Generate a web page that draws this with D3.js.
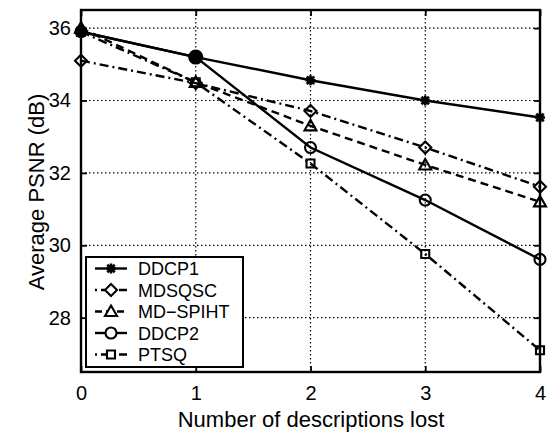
<!DOCTYPE html>
<html><head><meta charset="utf-8">
<script src="https://cdn.jsdelivr.net/npm/d3@7"></script>
<style>body{margin:0;background:#fff}svg{display:block}text{font-family:"Liberation Sans",Arial,Helvetica,sans-serif;fill:#000}</style>
</head><body>
<script>
const xValues = [0, 1, 2, 3, 4];
const seriesNames = ["DDCP1", "MDSQSC", "MD\u2212SPIHT", "DDCP2", "PTSQ"];
const ddcp1  = [35.9, 35.2, 34.56, 34.0, 33.53];
const mdsqsc = [35.1, 34.48, 33.71, 32.70, 31.62];
const mdspiht= [36.0, 34.5, 33.3, 32.22, 31.2];
const ddcp2  = [35.9, 35.2, 32.70, 31.25, 29.61];
const ptsq   = [35.9, 34.5, 32.26, 29.76, 27.10];
const xTicks = [0, 1, 2, 3, 4];
const yTicks = [28, 30, 32, 34, 36];
const xLabel = "Number of descriptions lost";
const yLabel = "Average PSNR (dB)";

const W = 549, H = 434;
const L = 81, R = 540, T = 10, B = 372;
const svg = d3.select("body").append("svg").attr("width", W).attr("height", H);
const x = d3.scaleLinear().domain([0, 4]).range([L, R]);
const y = d3.scaleLinear().domain([26.5, 36.5]).range([B, T]);

// grid
const g = svg.append("g");
g.selectAll(".gx").data(xTicks.slice(1, -1)).join("line")
  .attr("x1", d => x(d)).attr("x2", d => x(d)).attr("y1", T).attr("y2", B)
  .attr("stroke", "#000").attr("stroke-width", 1.2).attr("stroke-dasharray", "1.5,2.5");
g.selectAll(".gy").data(yTicks).join("line")
  .attr("y1", d => y(d)).attr("y2", d => y(d)).attr("x1", L).attr("x2", R)
  .attr("stroke", "#000").attr("stroke-width", 1.2).attr("stroke-dasharray", "1.5,2.5");

// axes with inward ticks
const tickLen = 6;
const axB = d3.axisBottom(x).tickValues(xTicks).tickSize(-tickLen).tickPadding(14).tickFormat(d3.format("d"));
const axT = d3.axisTop(x).tickValues(xTicks).tickSize(-tickLen).tickFormat("");
const axLft = d3.axisLeft(y).tickValues(yTicks).tickSize(-tickLen).tickPadding(10).tickFormat(d3.format("d"));
const axRt = d3.axisRight(y).tickValues(yTicks).tickSize(-tickLen).tickFormat("");
function style(sel) {
  sel.select(".domain").remove();
  sel.selectAll(".tick line").attr("stroke", "#000").attr("stroke-width", 1.8);
  sel.selectAll(".tick text").attr("font-size", 20).attr("font-family", '"Liberation Sans",Arial,sans-serif').attr("fill", "#000");
}
svg.append("g").attr("transform", `translate(0,${B})`).call(axB).call(style);
svg.append("g").attr("transform", `translate(0,${T})`).call(axT).call(style);
svg.append("g").attr("transform", `translate(${L},0)`).call(axLft).call(style);
svg.append("g").attr("transform", `translate(${R},0)`).call(axRt).call(style);

// markers
function markerPath(type, s) {
  const h = s / 2;
  if (type === "star") return `M${-h},0L${h},0M0,${-h}L0,${h}M${-h*0.75},${-h*0.75}L${h*0.75},${h*0.75}M${-h*0.75},${h*0.75}L${h*0.75},${-h*0.75}`;
  if (type === "diamond") return `M0,${-h}L${h},0L0,${h}L${-h},0Z`;
  if (type === "triangle") return `M0,${-h}L${h},${h*0.75}L${-h},${h*0.75}Z`;
  if (type === "circle") return `M${h},0A${h},${h} 0 1,1 ${-h},0A${h},${h} 0 1,1 ${h},0Z`;
  if (type === "square") return `M${-h},${-h}L${h},${-h}L${h},${h}L${-h},${h}Z`;
}
const series = [
  {name: seriesNames[0], vals: ddcp1,  dash: null,        marker: "star",     size: 10},
  {name: seriesNames[1], vals: mdsqsc, dash: "9,4,2,4",   marker: "diamond",  size: 12},
  {name: seriesNames[2], vals: mdspiht,dash: "8,5",       marker: "triangle", size: 12},
  {name: seriesNames[3], vals: ddcp2,  dash: null,        marker: "circle",   size: 11},
  {name: seriesNames[4], vals: ptsq,   dash: "9,4,2,4",   marker: "square",   size: 8}
];
const line = d3.line().x((d, i) => x(xValues[i])).y(d => y(d));
const plot = svg.append("g");
series.forEach(s => {
  plot.append("path").attr("d", line(s.vals)).attr("fill", "none").attr("stroke", "#000")
    .attr("stroke-width", 2.4).attr("stroke-dasharray", s.dash);
});
const isJoint = (s, d, i) => s.marker === "circle" && i > 0 && d === ddcp1[i];
series.forEach(s => {
  plot.selectAll(null).data(s.vals).join("path")
    .attr("transform", (d, i) => `translate(${x(xValues[i])},${y(d)})`)
    .attr("d", (d, i) => markerPath(s.marker, isJoint(s, d, i) ? 13 : s.size))
    .attr("fill", (d, i) => isJoint(s, d, i) ? "#000" : "none")
    .attr("stroke", "#000").attr("stroke-width", s.marker === "star" ? 2.6 : 2.1);
});

// frame
svg.append("rect").attr("x", L).attr("y", T).attr("width", R - L).attr("height", B - T)
  .attr("fill", "none").attr("stroke", "#000").attr("stroke-width", 2.4);

// legend
const lg = svg.append("g");
lg.append("rect").attr("x", 86).attr("y", 257).attr("width", 157).attr("height", 110)
  .attr("fill", "#fff").attr("stroke", "#000").attr("stroke-width", 2);
series.forEach((s, i) => {
  const cy = 268.5 + i * 21.5;
  lg.append("line").attr("x1", 95).attr("x2", 127).attr("y1", cy).attr("y2", cy)
    .attr("stroke", "#000").attr("stroke-width", 2.4).attr("stroke-dasharray", s.dash ? (s.dash === "8,5" ? "7,4" : "2,4,8,4") : null);
  lg.append("path").attr("transform", `translate(111,${cy})`).attr("d", markerPath(s.marker, s.size))
    .attr("fill", "#fff").attr("stroke", "#000").attr("stroke-width", s.marker === "star" ? 2.6 : 2.1);
  lg.append("text").attr("x", 138).attr("y", cy + 6.5).attr("font-size", 18).text(s.name);
});

// titles
svg.append("text").attr("x", 311).attr("y", 427).attr("text-anchor", "middle").attr("font-size", 22).text(xLabel);
svg.append("text").attr("transform", "translate(44,192) rotate(-90)").attr("text-anchor", "middle").attr("font-size", 22).text(yLabel);
</script>
</body></html>
